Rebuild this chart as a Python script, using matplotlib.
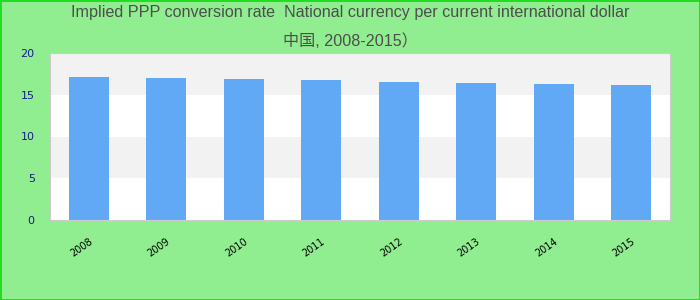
import matplotlib
matplotlib.use("Agg")
import matplotlib.pyplot as plt
import numpy as np

years = ["2008", "2009", "2010", "2011", "2012", "2013", "2014", "2015"]
ppp_rate = [17.1, 17.0, 16.9, 16.8, 16.5, 16.4, 16.3, 16.2]
y_ticks = [0, 5, 10, 15, 20]

title_line1 = "Implied PPP conversion rate  National currency per current international dollar"
title_line2 = "中国, 2008-2015）"

plt.rcParams["font.family"] = ["DejaVu Sans"]

fig = plt.figure(figsize=(7, 3), dpi=100, facecolor="#90ee90",
                 edgecolor="#22dd22", linewidth=2)
ax = fig.add_axes([50 / 700, 80 / 300, 620 / 700, 167 / 300])

# alternating horizontal bands
for i, (lo, hi) in enumerate(zip(y_ticks[:-1], y_ticks[1:])):
    ax.axhspan(lo, hi, color="white" if i % 2 == 0 else "#f2f2f2", zorder=0, lw=0)

x = np.arange(len(years))
ax.bar(x, ppp_rate, width=0.52, color="#62a9f5", zorder=2)

ax.set_xlim(-0.5, len(years) - 0.5)
ax.set_ylim(0, 20)
ax.set_yticks(y_ticks)
ax.set_xticks(x)
ax.set_xticklabels(years, rotation=35, fontsize=7, ha="right", rotation_mode="anchor")
ax.tick_params(axis="y", colors="#1a1a8c", labelsize=8, length=0, pad=11)
ax.tick_params(axis="x", length=0, pad=12)
for lbl in ax.get_xticklabels():
    lbl.set_color("black")
for s in ax.spines.values():
    s.set_color("#cccccc")

title_fonts = ["Liberation Sans", "Noto Sans CJK SC"]
fig.text(0.5, 1 - 13 / 300, title_line1, ha="center", va="center", fontsize=11.6,
         color="#4d4d4d", family=title_fonts)
fig.text(0.5, 1 - 41 / 300, title_line2, ha="center", va="center", fontsize=11.6,
         color="#4d4d4d", family=title_fonts)

fig.savefig("out.png", dpi=100, facecolor=fig.get_facecolor(), edgecolor=fig.get_edgecolor())
